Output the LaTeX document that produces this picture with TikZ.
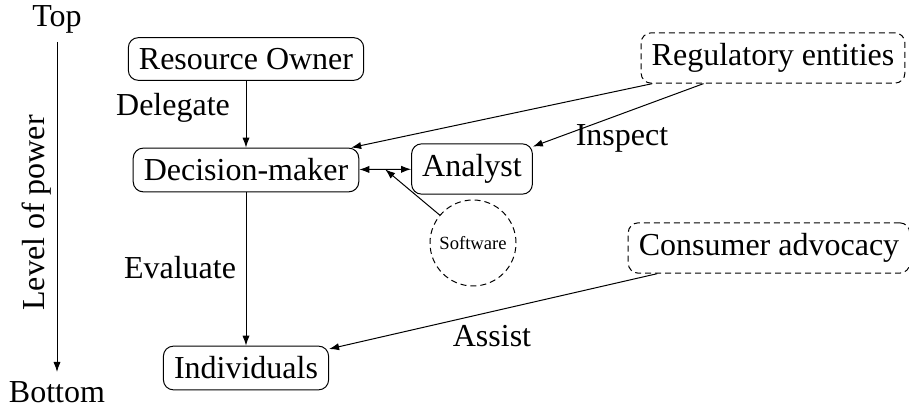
\documentclass[tikz,border=0pt]{standalone}
\usepackage{fontspec}
\setmainfont{Liberation Serif}
\usetikzlibrary{arrows.meta}
\tikzset{
  every node/.style={font=\fontsize{16}{19}\selectfont},
  entity/.style={draw, rounded corners=5pt, line width=0.5pt, inner xsep=5.3pt, inner ysep=5.3pt},
  extent/.style={draw, dash pattern=on 3pt off 2pt, rounded corners=5pt, line width=0.5pt, inner xsep=5.3pt, inner ysep=5.3pt},
  conn/.style={line width=0.5pt, -{Latex[length=5pt,width=3.6pt]}},
  biconn/.style={line width=0.5pt, {Latex[length=5pt,width=3.6pt]}-{Latex[length=5pt,width=3.6pt]}},
  lbl/.style={inner sep=0pt}
}
\begin{document}
\begin{tikzpicture}[x=0.5pt,y=-0.5pt]
\useasboundingbox (0,0) rectangle (909,410);
% power axis
\node[lbl] (top) at (57,19) {Top};
\node[lbl] (bottom) at (57,392) {Bottom};
\node[lbl, rotate=90] (lop) at (37,213) {Level of power};
\coordinate (ta) at (57,42);
\coordinate (tb) at (57,372);
\draw[conn] (ta) -- (tb);
% nodes
\node[entity] (ro) at (246,59) {Resource Owner};
\node[entity] (dm) at (246,170) {Decision-maker};
\node[entity] (an) at (472,169) {Analyst};
\node[entity] (ind) at (246,368) {Individuals};
\node[extent] (reg) at (773,58) {Regulatory entities};
\node[extent] (con) at (769,248) {Consumer advocacy};
\node[draw, dash pattern=on 3pt off 2pt, circle, line width=0.5pt, minimum size=43pt, inner sep=0pt,
      font=\fontsize{9.3}{11}\selectfont] (sw) at (473,243) {Software};
% labels
\node[lbl] (delegate) at (173,108) {Delegate};
\node[lbl] (evaluate) at (180,268) {Evaluate};
\node[lbl] (inspect) at (622,138) {Inspect};
\node[lbl] (assist) at (492,336) {Assist};
% connectors
\draw[conn] (ro) -- (dm);
\draw[conn] (dm) -- (ind);
\draw[biconn] (dm) -- coordinate[midway] (mid) (an);
\draw[conn] (sw) -- (mid);
\draw[conn] (reg) -- (dm);
\draw[conn] (reg) -- (an);
\draw[conn] (con) -- (ind);
\end{tikzpicture}
\end{document}
